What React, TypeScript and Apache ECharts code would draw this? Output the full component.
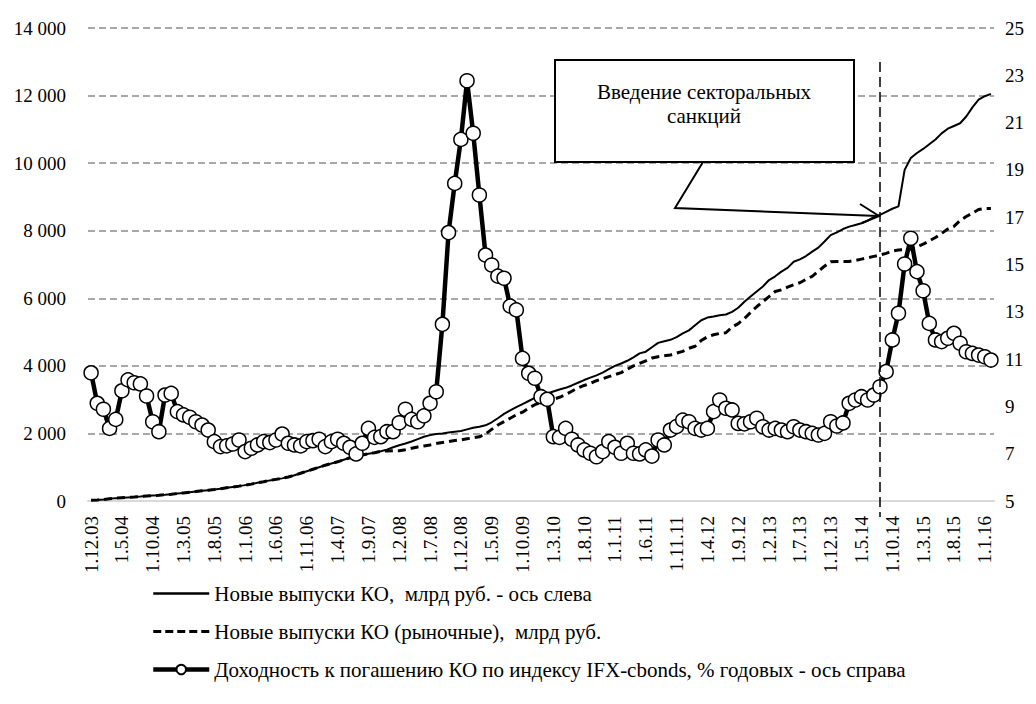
import React, { useEffect, useRef } from "react";
import * as echarts from "echarts";

const FONT = "'Liberation Serif', 'Times New Roman', serif";

// Monthly categories: 1.12.03 ... 1.2.16
const categories: string[] = [];
for (let k = 0; k < 147; k++) {
  const m = ((11 + k) % 12) + 1;
  const y = 2003 + Math.floor((11 + k) / 12);
  categories.push(`1.${m}.${String(y % 100).padStart(2, "0")}`);
}

const leftTicks = [0, 2000, 4000, 6000, 8000, 10000, 12000, 14000];
const rightTicks = [5, 7, 9, 11, 13, 15, 17, 19, 21, 23, 25];

// Новые выпуски КО, млрд руб.
const newIssues = [
  20, 30, 45, 65, 85, 95, 105, 115, 130, 148,
  160, 172, 185, 200, 220, 240, 260, 280, 300, 320,
  340, 365, 390, 415, 440, 470, 500, 540, 570, 610,
  640, 670, 710, 760, 820, 880, 940, 1000, 1060, 1110,
  1160, 1220, 1280, 1320, 1360, 1400, 1430, 1470, 1520, 1590,
  1650, 1700, 1760, 1830, 1900, 1950, 1980, 2000, 2030, 2050,
  2070, 2120, 2170, 2200, 2240, 2330, 2450, 2580, 2680, 2780,
  2870, 2960, 3050, 3120, 3180, 3240, 3300, 3350, 3420, 3500,
  3580, 3650, 3720, 3800, 3900, 4000, 4070, 4150, 4250, 4370,
  4420, 4550, 4680, 4730, 4770, 4850, 4960, 5050, 5200, 5350,
  5430, 5460, 5500, 5520, 5600, 5720, 5900, 6050, 6200, 6350,
  6540, 6650, 6790, 6900, 7080, 7150, 7250, 7380, 7500, 7680,
  7870, 7950, 8050, 8120, 8170, 8220, 8300, 8400, 8470, 8560,
  8650, 8720, 9800, 10150, 10300, 10420, 10560, 10700, 10880, 11020,
  11100, 11180, 11380, 11650, 11880, 11980, 12050,
];

// Новые выпуски КО (рыночные), млрд руб.
const marketIssues = [
  20, 30, 45, 65, 85, 95, 105, 115, 130, 148,
  160, 172, 185, 200, 220, 240, 260, 280, 300, 320,
  340, 365, 390, 415, 440, 470, 500, 540, 570, 610,
  640, 670, 710, 760, 820, 880, 940, 1000, 1060, 1110,
  1160, 1220, 1280, 1320, 1360, 1400, 1430, 1470, 1480, 1490,
  1490, 1520, 1560, 1600, 1630, 1660, 1700, 1730, 1760, 1790,
  1810, 1840, 1870, 1900, 1980, 2120, 2250, 2350, 2450, 2550,
  2630, 2750, 2850, 2920, 2970, 3010, 3070, 3150, 3250, 3350,
  3420, 3480, 3560, 3620, 3680, 3740, 3800, 3900, 4000, 4070,
  4150, 4230, 4270, 4300, 4320, 4380, 4430, 4520, 4580, 4750,
  4860, 4920, 4960, 4980, 5150, 5250, 5400, 5580, 5750, 5900,
  6050, 6200, 6250, 6330, 6400, 6460, 6560, 6650, 6800, 6950,
  7080, 7090, 7090, 7090, 7120, 7160, 7200, 7240, 7280, 7330,
  7400, 7430, 7440, 7450, 7520, 7600, 7700, 7800, 7920, 8050,
  8130, 8300, 8420, 8520, 8630, 8660, 8660,
];

// Доходность к погашению КО по индексу IFX-cbonds, % годовых
const yieldIdx = [
  10.42, 9.13, 8.88, 8.07, 8.45, 9.66, 10.12, 10.0, 9.95, 9.44,
  8.35, 7.93, 9.48, 9.55, 8.78, 8.64, 8.54, 8.35, 8.21, 8.0,
  7.51, 7.3, 7.33, 7.41, 7.58, 7.09, 7.23, 7.37, 7.51, 7.47,
  7.58, 7.83, 7.44, 7.37, 7.33, 7.51, 7.55, 7.61, 7.3, 7.51,
  7.61, 7.44, 7.27, 6.99, 7.44, 8.07, 7.69, 7.72, 7.93, 7.93,
  8.31, 8.88, 8.45, 8.35, 8.6, 9.13, 9.62, 12.47, 16.35, 18.43,
  20.29, 22.77, 20.55, 17.94, 15.4, 14.98, 14.51, 14.42, 13.24, 13.08,
  11.03, 10.4, 10.19, 9.41, 9.3, 7.72, 7.69, 8.07, 7.61, 7.37,
  7.16, 7.02, 6.87, 7.09, 7.51, 7.27, 7.02, 7.44, 7.02, 6.99,
  7.16, 6.9, 7.58, 7.37, 8.0, 8.15, 8.42, 8.35, 8.07, 8.0,
  8.07, 8.78, 9.27, 8.92, 8.85, 8.28, 8.26, 8.35, 8.5, 8.14,
  8.0, 8.07, 8.0, 7.93, 8.14, 8.0, 7.93, 7.86, 7.79, 7.86,
  8.35, 8.17, 8.3, 9.13, 9.27, 9.41, 9.27, 9.48, 9.83, 10.47,
  11.81, 12.94, 15.02, 16.11, 14.7, 13.89, 12.51, 11.81, 11.74, 11.88,
  12.09, 11.67, 11.31, 11.24, 11.17, 11.1, 10.96,
];

const sanctionsMonth = "1.8.14";

const seriesNames = [
  "Новые выпуски КО,  млрд руб. - ось слева",
  "Новые выпуски КО (рыночные),  млрд руб.",
  "Доходность к погашению КО по индексу IFX-cbonds, % годовых - ось справа",
];

const fmtThousands = (v: number) =>
  String(v).replace(/\B(?=(\d{3})+(?!\d))/g, " ");

export default function App() {
  const ref = useRef<HTMLDivElement>(null);
  useEffect(() => {
    document.body.style.margin = "0";
    const chart = echarts.init(ref.current!, null, { renderer: "svg" });
    const option: any = {
      animation: false,
      backgroundColor: "#ffffff",
      textStyle: { fontFamily: FONT, color: "#000" },
      grid: { left: 88, right: 42, top: 28, bottom: 203, containLabel: false },
      legend: {
        orient: "vertical",
        left: 146,
        top: 578,
        itemWidth: 56,
        itemHeight: 12,
        itemGap: 17,
        selectedMode: false,
        textStyle: { fontFamily: FONT, fontSize: 21, color: "#000", lineHeight: 21 },
        data: [
          { name: seriesNames[0], itemStyle: { opacity: 0 }, lineStyle: { width: 2.5 } },
          { name: seriesNames[1], itemStyle: { opacity: 0 }, lineStyle: { width: 3, type: [8, 4] } },
          { name: seriesNames[2], lineStyle: { width: 4.5 } },
        ],
      },
      xAxis: {
        type: "category",
        data: categories,
        boundaryGap: true,
        axisLine: { show: true, lineStyle: { color: "#d9d9d9", width: 2 } },
        axisTick: { show: false },
        axisLabel: {
          interval: 4,
          rotate: 90,
          margin: 15,
          fontFamily: FONT,
          fontSize: 19,
          color: "#000",
        },
        splitLine: { show: false },
      },
      yAxis: [
        {
          type: "value",
          min: 0,
          max: 14000,
          interval: 2000,
          axisLine: { show: false },
          axisTick: { show: false },
          axisLabel: {
            margin: 22,
            fontFamily: FONT,
            fontSize: 19,
            color: "#000",
            formatter: (v: number) => fmtThousands(v),
            customValues: leftTicks,
          },
          splitLine: {
            show: true,
            lineStyle: { color: "#8c8c8c", type: [7, 4], width: 1.5 },
          },
        },
        {
          type: "value",
          min: 5,
          max: 25,
          axisLine: { show: false },
          axisTick: { show: false },
          axisLabel: {
            margin: 11,
            fontFamily: FONT,
            fontSize: 19,
            color: "#000",
            customValues: rightTicks,
          },
          splitLine: { show: false },
        },
      ],
      series: [
        {
          name: seriesNames[0],
          type: "line",
          yAxisIndex: 0,
          data: newIssues,
          symbol: "none",
          clip: false,
          lineStyle: { color: "#000", width: 2 },
          itemStyle: { color: "#000" },
          z: 3,
          markLine: {
            silent: true,
            symbol: ["none", "none"],
            label: { show: false },
            lineStyle: { color: "#000", type: [10, 5], width: 1.5 },
            data: [[{ xAxis: sanctionsMonth, y: 62 }, { xAxis: sanctionsMonth, y: 517 }]],
          },
        },
        {
          name: seriesNames[1],
          type: "line",
          yAxisIndex: 0,
          data: marketIssues,
          symbol: "none",
          lineStyle: { color: "#000", width: 3, type: [8, 5] },
          itemStyle: { color: "#000" },
          z: 3,
        },
        {
          name: seriesNames[2],
          type: "line",
          yAxisIndex: 1,
          data: yieldIdx,
          symbol: "circle",
          symbolSize: 14,
          showSymbol: true,
          showAllSymbol: true,
          lineStyle: { color: "#000", width: 4.5 },
          itemStyle: { color: "#fff", borderColor: "#000", borderWidth: 1.5 },
          z: 4,
        },
      ],
      graphic: [
        {
          type: "rect",
          shape: { x: 555, y: 60, width: 299, height: 102 },
          style: { fill: "#fff", stroke: "#000", lineWidth: 2 },
          z: 10,
        },
        {
          type: "text",
          x: 704,
          y: 80,
          z: 11,
          style: {
            text: "Введение секторальных\nсанкций",
            fontFamily: FONT,
            fontSize: 21,
            lineHeight: 24,
            align: "center",
            verticalAlign: "top",
            fill: "#000",
          },
        },
        {
          type: "polyline",
          shape: { points: [[703, 162], [675, 208], [878, 216]] },
          style: { stroke: "#000", lineWidth: 2, fill: null },
          z: 10,
        },
        {
          type: "polyline",
          shape: { points: [[860, 204], [879, 216], [862, 223]] },
          style: { stroke: "#000", lineWidth: 2, fill: null },
          z: 10,
        },
      ],
    };
    chart.setOption(option);
    return () => chart.dispose();
  }, []);
  return <div ref={ref} style={{ width: 1036, height: 704, background: "#fff" }} />;
}
